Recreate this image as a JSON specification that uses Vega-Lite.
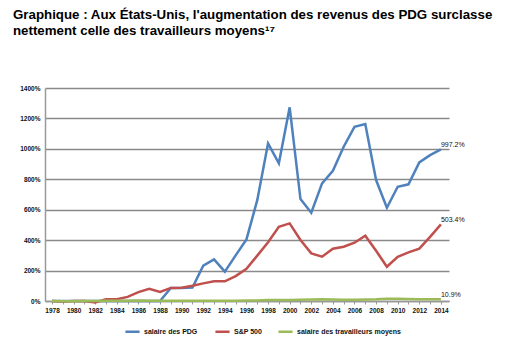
{
  "$schema": "https://vega.github.io/schema/vega-lite/v6.json",
  "width": 404,
  "height": 213,
  "autosize": "none",
  "padding": {"left": 45, "top": 88, "right": 59, "bottom": 61},
  "background": "white",
  "title": {
    "text": ["Graphique : Aux États-Unis, l'augmentation des revenus des PDG surclasse", "nettement celle des travailleurs moyens¹⁷"],
    "anchor": "start",
    "frame": "group",
    "dx": -32,
    "offset": 48,
    "font": "Liberation Sans",
    "fontSize": 13.3,
    "fontWeight": "bold",
    "lineHeight": 16,
    "color": "#000000"
  },
  "config": {
    "view": {"stroke": null},
    "font": "Liberation Sans"
  },
  "data": {
    "values": [
      {"year": 1978, "pdg": 0, "sp": 0, "trav": 0},
      {"year": 1979, "pdg": 0, "sp": -4, "trav": -1},
      {"year": 1980, "pdg": 0, "sp": 0, "trav": -1},
      {"year": 1981, "pdg": 0, "sp": 0, "trav": 0},
      {"year": 1982, "pdg": 0, "sp": -10, "trav": 0},
      {"year": 1983, "pdg": 0, "sp": 12, "trav": 1},
      {"year": 1984, "pdg": 0, "sp": 12, "trav": 1},
      {"year": 1985, "pdg": 0, "sp": 27, "trav": 2},
      {"year": 1986, "pdg": 0, "sp": 58, "trav": 3},
      {"year": 1987, "pdg": 0, "sp": 80, "trav": 2},
      {"year": 1988, "pdg": 0, "sp": 60, "trav": 2},
      {"year": 1989, "pdg": 85, "sp": 86, "trav": 2},
      {"year": 1990, "pdg": 85, "sp": 87, "trav": 1},
      {"year": 1991, "pdg": 88, "sp": 100, "trav": 1},
      {"year": 1992, "pdg": 232, "sp": 116, "trav": 2},
      {"year": 1993, "pdg": 274, "sp": 129, "trav": 2},
      {"year": 1994, "pdg": 193, "sp": 129, "trav": 2},
      {"year": 1995, "pdg": 300, "sp": 164, "trav": 2},
      {"year": 1996, "pdg": 405, "sp": 212, "trav": 3},
      {"year": 1997, "pdg": 663, "sp": 298, "trav": 4},
      {"year": 1998, "pdg": 1036, "sp": 386, "trav": 6},
      {"year": 1999, "pdg": 905, "sp": 488, "trav": 7},
      {"year": 2000, "pdg": 1273, "sp": 510, "trav": 7},
      {"year": 2001, "pdg": 670, "sp": 401, "trav": 8},
      {"year": 2002, "pdg": 580, "sp": 313, "trav": 10},
      {"year": 2003, "pdg": 773, "sp": 291, "trav": 11},
      {"year": 2004, "pdg": 856, "sp": 344, "trav": 10},
      {"year": 2005, "pdg": 1014, "sp": 357, "trav": 9},
      {"year": 2006, "pdg": 1145, "sp": 383, "trav": 9},
      {"year": 2007, "pdg": 1163, "sp": 429, "trav": 10},
      {"year": 2008, "pdg": 795, "sp": 330, "trav": 11},
      {"year": 2009, "pdg": 613, "sp": 225, "trav": 15},
      {"year": 2010, "pdg": 751, "sp": 291, "trav": 15},
      {"year": 2011, "pdg": 767, "sp": 320, "trav": 13},
      {"year": 2012, "pdg": 911, "sp": 344, "trav": 12},
      {"year": 2013, "pdg": 959, "sp": 422, "trav": 11},
      {"year": 2014, "pdg": 997.2, "sp": 503.4, "trav": 10.9}
    ]
  },
  "transform": [
    {"fold": ["pdg", "sp", "trav"], "as": ["series", "value"]}
  ],
  "encoding": {
    "x": {
      "field": "year",
      "type": "quantitative",
      "scale": {"domain": [1977.35, 2014.75], "nice": false, "zero": false},
      "axis": {
        "title": null,
        "values": [1978,1979,1980,1981,1982,1983,1984,1985,1986,1987,1988,1989,1990,1991,1992,1993,1994,1995,1996,1997,1998,1999,2000,2001,2002,2003,2004,2005,2006,2007,2008,2009,2010,2011,2012,2013,2014],
        "format": "d",
        "labelExpr": "datum.value % 2 == 0 ? datum.label : ''",
        "grid": false,
        "domainColor": "#999999",
        "domainWidth": 1.5,
        "tickColor": "#999999",
        "tickSize": 3,
        "labelFontSize": 6.5,
        "labelColor": "#111111",
        "labelPadding": 3,
        "labelFont": "Liberation Sans",
        "labelFontWeight": "bold"
      }
    },
    "y": {
      "field": "value",
      "type": "quantitative",
      "scale": {"domain": [0, 1400], "nice": false},
      "axis": {
        "title": null,
        "values": [0, 200, 400, 600, 800, 1000, 1200, 1400],
        "labelExpr": "datum.value + '%'",
        "gridColor": "#8a8a8a",
        "gridWidth": 1.5,
        "domainColor": "#999999",
        "domainWidth": 1.5,
        "ticks": false,
        "labelFontSize": 6.5,
        "labelColor": "#111111",
        "labelPadding": 5,
        "labelFont": "Liberation Sans",
        "labelFontWeight": "bold"
      }
    }
  },
  "layer": [
    {
      "mark": {"type": "line", "strokeWidth": 2.5},
      "encoding": {
        "color": {
          "field": "series",
          "type": "nominal",
          "scale": {"domain": ["pdg", "sp", "trav"], "range": ["#4F81BD", "#C0504D", "#9BBB59"]},
          "legend": {
            "title": null,
            "orient": "none",
            "legendX": 79,
            "legendY": 235,
            "direction": "horizontal",
            "symbolType": "stroke",
            "symbolStrokeWidth": 2.5,
            "symbolSize": 200,
            "labelFontSize": 7,
            "labelFont": "Liberation Sans",
            "labelFontWeight": "bold",
            "labelColor": "#111111",
            "labelOffset": 3,
            "columnPadding": 10,
            "labelExpr": "datum.label == 'pdg' ? 'salaire des  PDG' : datum.label == 'sp' ? 'S&P 500' : 'salaire des travailleurs moyens'"
          }
        }
      }
    },
    {
      "transform": [{"filter": "datum.year == 2014"}],
      "mark": {"type": "text", "align": "left", "baseline": "bottom", "dx": 0, "dy": -1, "fontSize": 7, "font": "Liberation Sans", "color": "#111111", "text": {"expr": "format(datum.value, '.1f') + '%'"}},
      "encoding": {}
    }
  ]
}
